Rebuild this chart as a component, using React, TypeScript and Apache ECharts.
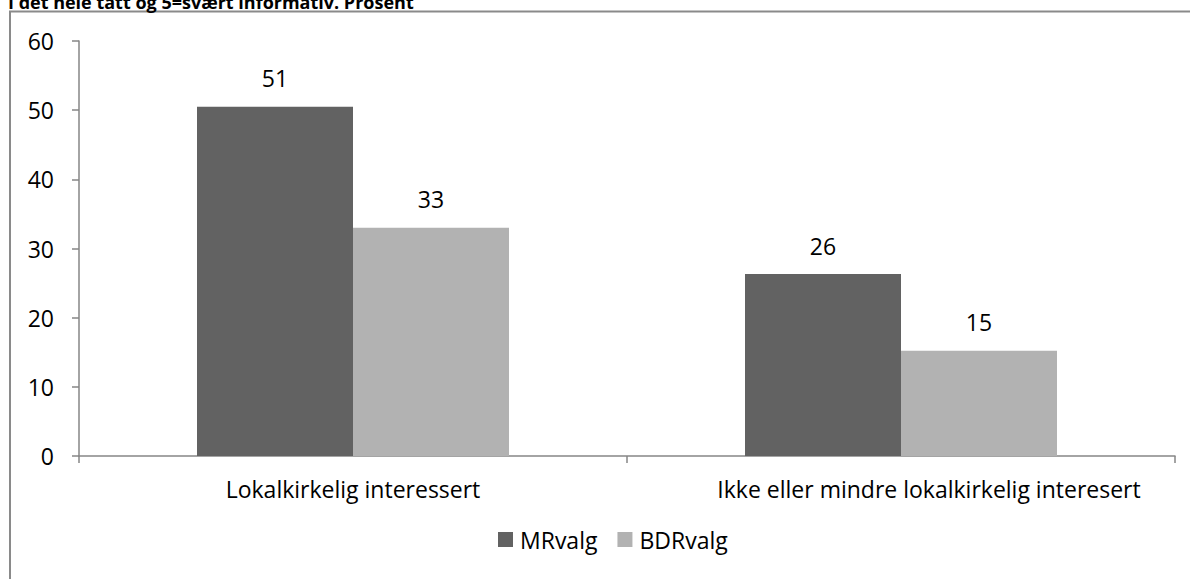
import React, { useEffect, useRef } from "react";
import * as echarts from "echarts";

const categories = ["Lokalkirkelig interessert", "Ikke eller mindre lokalkirkelig interesert"];
const mrValues = [50.5, 26.3];
const bdrValues = [33.0, 15.2];
const mrLabels = ["51", "26"];
const bdrLabels = ["33", "15"];
const seriesNames = ["MRvalg", "BDRvalg"];
const titleText = "I det hele tatt og 5=svært informativ. Prosent";

const FONT = "'Open Sans', sans-serif";
const FS = 23;

export default function App() {
  const ref = useRef<HTMLDivElement>(null);
  useEffect(() => {
    if (!ref.current) return;
    const chart = echarts.init(ref.current, null, { renderer: "svg" });
    const axisColor = "#868686";
    const catData = categories.map((c, i) =>
      i === 1 ? { value: c, textStyle: { padding: [0, 0, 0, 56] } } : c
    );
    chart.setOption({
      animation: false,
      backgroundColor: "#ffffff",
      textStyle: { fontFamily: FONT },
      grid: { left: 79, right: 15, top: 41, bottom: 123, containLabel: false },
      legend: {
        top: 523,
        left: 493,
        itemWidth: 15,
        itemHeight: 15,
        itemGap: 20,
        icon: "rect",
        textStyle: { fontSize: FS, color: "#000", fontFamily: FONT, padding: [0, 0, 0, 2] },
        data: seriesNames,
      },
      xAxis: {
        type: "category",
        data: catData,
        axisLine: { lineStyle: { color: axisColor, width: 1.5 } },
        axisTick: { show: true, length: 7, alignWithLabel: false, lineStyle: { color: axisColor, width: 1.5 } },
        axisLabel: { fontSize: FS, color: "#000", margin: 21, fontFamily: FONT, interval: 0 },
        splitLine: { show: false },
      },
      yAxis: {
        type: "value",
        min: 0,
        max: 60,
        interval: 10,
        axisLine: { show: true, lineStyle: { color: axisColor, width: 1.5 } },
        axisTick: { show: true, length: 7, lineStyle: { color: axisColor, width: 1.5 } },
        axisLabel: { fontSize: FS, color: "#000", margin: 25, fontFamily: FONT },
        splitLine: { show: false },
      },
      series: [
        {
          name: seriesNames[0],
          type: "bar",
          data: mrValues,
          barWidth: 156,
          barGap: "0%",
          itemStyle: { color: "#626262" },
          label: {
            show: true,
            position: "top",
            distance: 17,
            fontSize: FS,
            color: "#000",
            fontFamily: FONT,
            formatter: (p: any) => mrLabels[p.dataIndex],
          },
        },
        {
          name: seriesNames[1],
          type: "bar",
          data: bdrValues,
          barWidth: 156,
          barGap: "0%",
          itemStyle: { color: "#b2b2b2" },
          label: {
            show: true,
            position: "top",
            distance: 17,
            fontSize: FS,
            color: "#000",
            fontFamily: FONT,
            formatter: (p: any) => bdrLabels[p.dataIndex],
          },
        },
      ],
      graphic: [
        {
          type: "polyline",
          shape: { points: [[10, 600], [10, 11.5], [1200, 11.5]] },
          style: { stroke: "#8a8a8a", lineWidth: 2, fill: "none" },
          silent: true,
        },
        {
          type: "text",
          x: 8,
          y: 11,
          style: {
            text: titleText,
            fontSize: 18,
            fontWeight: "bold",
            fontFamily: FONT,
            fill: "#000",
            verticalAlign: "bottom",
          },
          silent: true,
        },
      ],
    });
    return () => chart.dispose();
  }, []);
  return (
    <div
      ref={ref}
      style={{ position: "fixed", left: 0, top: 0, width: 1190, height: 579, background: "#fff" }}
    />
  );
}
